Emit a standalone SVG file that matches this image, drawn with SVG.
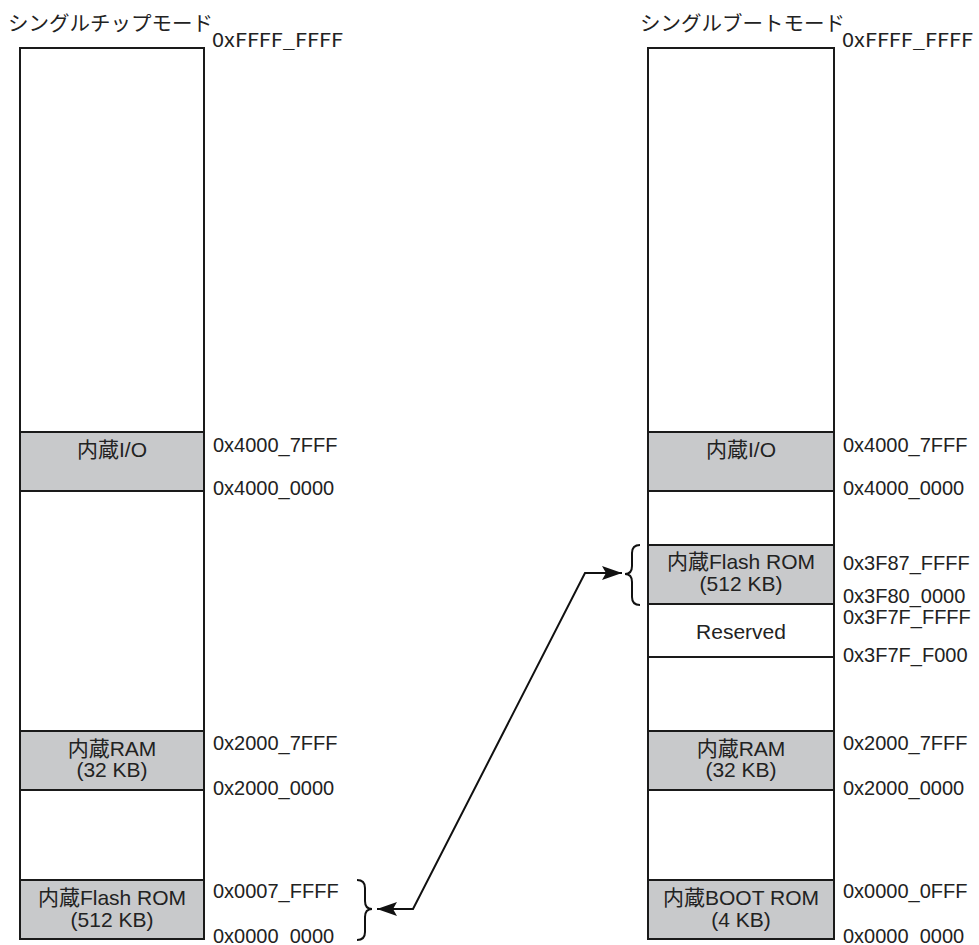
<svg xmlns="http://www.w3.org/2000/svg" width="979" height="945" viewBox="0 0 979 945">
<style>
.bg{fill:#fff}
.mem{fill:#fff;stroke:#1a1a1a;stroke-width:2}
.blk{fill:#c8c9cb;stroke:#1a1a1a;stroke-width:2}
.div{stroke:#1a1a1a;stroke-width:2}
.ttl{font-family:"Noto Sans CJK JP","Noto Sans",sans-serif;font-size:20.5px;fill:#222}
.top{font-family:"Noto Sans CJK JP","Noto Sans",sans-serif;font-size:19px;fill:#222}
.adr{font-family:"Liberation Sans",Arial,"Noto Sans CJK JP",sans-serif;font-size:20px;fill:#222}
.lbl{font-family:"Liberation Sans",Arial,"Noto Sans CJK JP",sans-serif;font-size:21px;fill:#222;text-anchor:middle}
.con{fill:none;stroke:#111;stroke-width:2}
</style>
<defs>
<marker id="ah" markerUnits="userSpaceOnUse" markerWidth="22" markerHeight="16" refX="20" refY="7" orient="auto-start-reverse">
<path d="M0,0 L20,7 L0,14 L4,7 z" fill="#111"/>
</marker>
</defs>
<rect class="bg" x="0" y="0" width="979" height="945"/>

<g id="single-chip">
<text class="ttl" x="8" y="31">シングルチップモード</text>
<rect class="mem" x="20" y="48" width="184" height="891"/>
<text class="top" x="212" y="47" textLength="131" lengthAdjust="spacingAndGlyphs">0xFFFF_FFFF</text>
</g>
<g id="left-io">
<rect class="blk" x="20" y="432" width="184" height="59"/>
<text class="lbl" x="112" y="457">内蔵I/O</text>
<text class="adr" x="213" y="452">0x4000_7FFF</text>
<text class="adr" x="213" y="495">0x4000_0000</text>
</g>
<g id="left-ram">
<rect class="blk" x="20" y="731" width="184" height="59"/>
<text class="lbl" x="112" y="756">内蔵RAM</text>
<text class="lbl" x="112" y="777">(32 KB)</text>
<text class="adr" x="213" y="750">0x2000_7FFF</text>
<text class="adr" x="213" y="795">0x2000_0000</text>
</g>
<g id="left-flash">
<rect class="blk" x="20" y="880" width="184" height="59"/>
<text class="lbl" x="112" y="905">内蔵Flash ROM</text>
<text class="lbl" x="112" y="927">(512 KB)</text>
<text class="adr" x="213" y="898">0x0007_FFFF</text>
<text class="adr" x="213" y="943">0x0000_0000</text>
</g>

<g id="single-boot">
<text class="ttl" x="640" y="31">シングルブートモード</text>
<rect class="mem" x="648" y="48" width="186" height="891"/>
<text class="top" x="842" y="47" textLength="131" lengthAdjust="spacingAndGlyphs">0xFFFF_FFFF</text>
</g>
<g id="right-io">
<rect class="blk" x="648" y="432" width="186" height="59"/>
<text class="lbl" x="741" y="457">内蔵I/O</text>
<text class="adr" x="843" y="452">0x4000_7FFF</text>
<text class="adr" x="843" y="495">0x4000_0000</text>
</g>
<g id="right-flash">
<rect class="blk" x="648" y="545" width="186" height="59"/>
<text class="lbl" x="741" y="569">内蔵Flash ROM</text>
<text class="lbl" x="741" y="591">(512 KB)</text>
<text class="adr" x="843" y="570">0x3F87_FFFF</text>
<text class="adr" x="843" y="603">0x3F80_0000</text>
</g>
<g id="right-reserved">
<line class="div" x1="648" y1="657" x2="834" y2="657"/>
<text class="lbl" x="741" y="639">Reserved</text>
<text class="adr" x="843" y="624">0x3F7F_FFFF</text>
<text class="adr" x="843" y="662">0x3F7F_F000</text>
</g>
<g id="right-ram">
<rect class="blk" x="648" y="731" width="186" height="59"/>
<text class="lbl" x="741" y="756">内蔵RAM</text>
<text class="lbl" x="741" y="777">(32 KB)</text>
<text class="adr" x="843" y="750">0x2000_7FFF</text>
<text class="adr" x="843" y="795">0x2000_0000</text>
</g>
<g id="right-boot">
<rect class="blk" x="648" y="880" width="186" height="59"/>
<text class="lbl" x="741" y="905">内蔵BOOT ROM</text>
<text class="lbl" x="741" y="927">(4 KB)</text>
<text class="adr" x="843" y="898">0x0000_0FFF</text>
<text class="adr" x="843" y="943">0x0000_0000</text>
</g>

<g id="connectors">
<path class="con" d="M357,880 Q365,880 365,888 L365,901 Q365,909 372,909 Q365,909 365,917 L365,932 Q365,940 357,940"/>
<path class="con" d="M640,545 Q632,545 632,553 L632,566 Q632,574 625,574 Q632,574 632,582 L632,597 Q632,605 640,605"/>
<path class="con" d="M377,909 L413,909 L585,573 L622,573" marker-start="url(#ah)" marker-end="url(#ah)"/>
</g>
</svg>
